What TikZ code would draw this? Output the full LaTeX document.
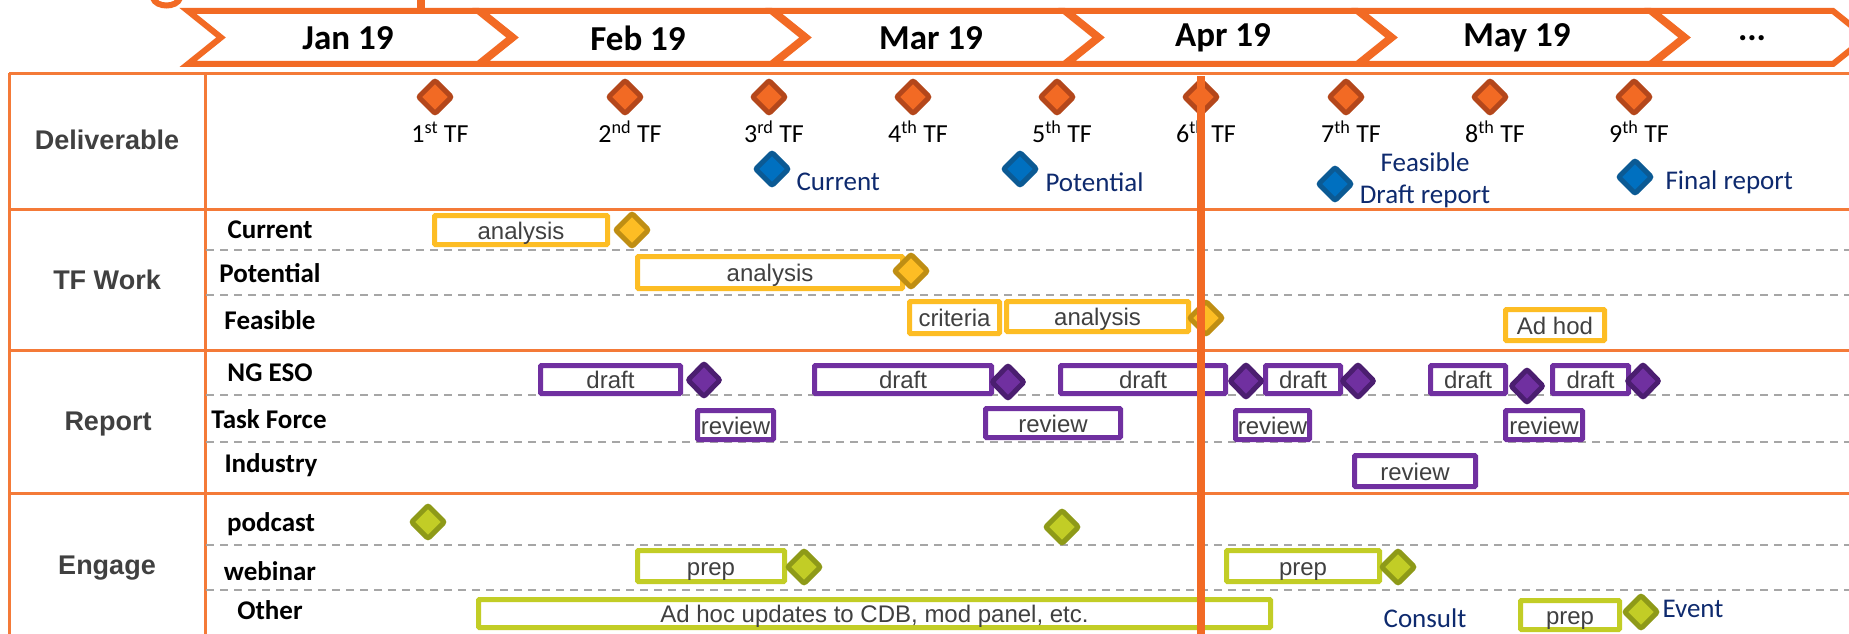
\documentclass[tikz,border=0pt]{standalone}
\usepackage{fontspec}
\setmainfont{Carlito}
\newfontfamily\arialf{Liberation Sans}
\usetikzlibrary{shapes.geometric}

\definecolor{ora}{HTML}{F26A24}
\definecolor{oradark}{HTML}{B4471B}
\definecolor{tline}{HTML}{F47A38}
\definecolor{bluefill}{HTML}{0070C0}
\definecolor{bluedark}{HTML}{0B5A94}
\definecolor{navy}{HTML}{0E2A6E}
\definecolor{yel}{HTML}{FDBD24}
\definecolor{yeldark}{HTML}{BF8E13}
\definecolor{pur}{HTML}{7030A0}
\definecolor{purdark}{HTML}{4B1E70}
\definecolor{lime}{HTML}{C2CD26}
\definecolor{limedark}{HTML}{8E9A18}
\definecolor{dashgray}{HTML}{A6A6A6}
\definecolor{txtgray}{HTML}{404040}

\begin{document}
\begin{tikzpicture}[x=1pt,y=-1pt,
  chev/.style={draw=ora, line width=6, fill=white, line join=miter},
  chevtxt/.style={font=\bfseries\fontsize{35}{40}\selectfont},
  grid/.style={draw=tline, line width=3},
  sep/.style={draw=dashgray, line width=2.2, dash pattern=on 8pt off 6pt},
  catlab/.style={font=\arialf\bfseries\fontsize{27}{30}\selectfont, text=txtgray},
  rowlab/.style={font=\bfseries\fontsize{27}{30}\selectfont},
  tflab/.style={font=\fontsize{26}{28}\selectfont},
  navylab/.style={font=\fontsize{27}{30}\selectfont, text=navy},
  dmd/.style={shape=diamond, draw, line width=5, inner sep=0, minimum width=35, minimum height=35, rounded corners=2},
  odmd/.style={dmd, fill=ora, draw=oradark},
  bdmd/.style={dmd, fill=bluefill, draw=bluedark},
  ydmd/.style={dmd, fill=yel, draw=yeldark},
  pdmd/.style={dmd, fill=pur, draw=purdark, minimum width=34, minimum height=35},
  ldmd/.style={dmd, fill=lime, draw=limedark},
  bar/.style={draw, line width=5, fill=white, inner sep=0, rounded corners=1,
    text height=22, text depth=4,
    font=\arialf\fontsize{24}{26}\selectfont, text=txtgray},
  ybar/.style={bar, draw=yel},
  pbar/.style={bar, draw=pur},
  lbar/.style={bar, draw=lime},
  today/.style={draw=ora, line width=8}
]
\useasboundingbox (0,0) rectangle (1849,634);
\clip (0,0) rectangle (1849,634);
\fill[white] (0,0) rectangle (1849,634);

% fragments of the heading above the month band
\draw[ora, line width=6] (153,-2) .. controls (156,8) and (177,8) .. (180,-2);
\fill[ora] (417,0) rectangle (425,8);

% month band
\foreach \i in {0,...,4} {
  \draw[chev] ({188+293*\i},11) -- ++(290,0) -- ++(33,26.5) -- ++(-33,26.5)
     -- ++(-290,0) -- ++(33,-26.5) -- cycle;
}
\draw[chev] (1653,11) -- ++(180,0) -- ++(33,26.5) -- ++(-33,26.5)
   -- ++(-180,0) -- ++(33,-26.5) -- cycle;
\node[chevtxt] (mjan) at (348,38) {Jan 19};
\node[chevtxt] (mfeb) at (638,38) {Feb 19};
\node[chevtxt] (mmar) at (931,38) {Mar 19};
\node[chevtxt] (mapr) at (1223,38) {Apr 19};
\node[chevtxt] (mmay) at (1517,38) {May 19};
\node[chevtxt] (mmore) at (1752,38) {...};

% table grid
\draw[grid] (9,73) -- (1849,73);
\draw[grid] (9,209) -- (1849,209);
\draw[grid] (9,350) -- (1849,350);
\draw[grid] (9,493) -- (1849,493);
\draw[grid] (9,73) -- (9,634);
\draw[grid] (205,73) -- (205,634);

% sub-row separators
\foreach \y in {250,295,395,442,545,590} {
  \draw[sep] (206,\y) -- (1849,\y);
}

% category labels
\node[catlab] (cdel) at (107,140) {Deliverable};
\node[catlab] (ctf) at (107,280) {TF Work};
\node[catlab] (crep) at (108,424) {Report};
\node[catlab] (ceng) at (107,568) {Engage};

% sub-row labels
\node[rowlab] (rcur) at (270,230) {Current};
\node[rowlab] (rpot) at (270,273) {Potential};
\node[rowlab] (rfea) at (270,320) {Feasible};
\node[rowlab] (rng) at (270,373) {NG ESO};
\node[rowlab] (rtask) at (269,419) {Task Force};
\node[rowlab] (rind) at (271,465) {Industry};
\node[rowlab] (rpod) at (271,524) {podcast};
\node[rowlab] (rweb) at (270,571) {webinar};
\node[rowlab] (roth) at (270,610) {Other};

% task force meetings
\node[odmd] (tf1) at (435,97) {};
\node[odmd] (tf2) at (625,97) {};
\node[odmd] (tf3) at (769,97) {};
\node[odmd] (tf4) at (913,97) {};
\node[odmd] (tf5) at (1057,97) {};
\node[odmd] (tf6) at (1201,97) {};
\node[odmd] (tf7) at (1346,97) {};
\node[odmd] (tf8) at (1490,97) {};
\node[odmd] (tf9) at (1634,97) {};
\node[tflab] (ltf1) at (440,132) {1\textsuperscript{st} TF};
\node[tflab] (ltf2) at (630,132) {2\textsuperscript{nd} TF};
\node[tflab] (ltf3) at (774,132) {3\textsuperscript{rd} TF};
\node[tflab] (ltf4) at (918,132) {4\textsuperscript{th} TF};
\node[tflab] (ltf5) at (1062,132) {5\textsuperscript{th} TF};
\node[tflab] (ltf6) at (1206,132) {6\textsuperscript{th} TF};
\node[tflab] (ltf7) at (1351,132) {7\textsuperscript{th} TF};
\node[tflab] (ltf8) at (1495,132) {8\textsuperscript{th} TF};
\node[tflab] (ltf9) at (1639,132) {9\textsuperscript{th} TF};

% report deliverables
\node[bdmd] (dcur) at (772,169) {};
\node[bdmd] (dpot) at (1020,169) {};
\node[bdmd] (dfea) at (1335,184) {};
\node[bdmd] (dfin) at (1635,177) {};
\node[navylab, anchor=west] (ldcur) at (793,182) {Current};
\node[navylab, anchor=west] (ldpot) at (1042,182) {Potential};
\node[navylab] (ldfea) at (1425,162) {Feasible};
\node[navylab] (ldraft) at (1425,196) {Draft report};
\node[navylab, anchor=west] (ldfin) at (1662,182) {Final report};

% TF work
\node[ybar, minimum width=173, minimum height=29] (wcur) at (521,230) {analysis};
\node[ydmd] (wcurm) at (632,230) {};
\node[ybar, minimum width=265, minimum height=32] (wpot) at (770,272.5) {analysis};
\node[ydmd] (wpotm) at (911,271) {};
\node[ybar, minimum width=90, minimum height=32] (wcrit) at (954.5,317.5) {criteria};
\node[ybar, minimum width=182, minimum height=30] (wfea) at (1097.5,316.5) {analysis};
\node[ydmd] (wfeam) at (1206,318) {};
\node[ybar, minimum width=99, minimum height=31] (wadh) at (1555,325) {Ad hod};

% report drafting
\node[pbar, minimum width=140, minimum height=28] (ng1) at (610.5,379.5) {draft};
\node[pbar, minimum width=177, minimum height=28] (ng2) at (903,379.5) {draft};
\node[pbar, minimum width=165, minimum height=28] (ng3) at (1143,379.5) {draft};
\node[pbar, minimum width=75, minimum height=28] (ng4) at (1303,379.5) {draft};
\node[pbar, minimum width=75, minimum height=28] (ng5) at (1468,379.5) {draft};
\node[pbar, minimum width=76, minimum height=28] (ng6) at (1590.5,379.5) {draft};
\node[pbar, minimum width=76, minimum height=29] (tk1) at (735.5,425) {review};
\node[pbar, minimum width=135, minimum height=29] (tk2) at (1053,423) {review};
\node[pbar, minimum width=74, minimum height=29] (tk3) at (1272.5,425) {review};
\node[pbar, minimum width=77, minimum height=29] (tk4) at (1544,425) {review};
\node[pbar, minimum width=121, minimum height=31] (ind1) at (1415,471) {review};
\node[pdmd] (ngm1) at (704,380) {};
\node[pdmd] (ngm2) at (1008,382) {};
\node[pdmd] (ngm3) at (1246,381) {};
\node[pdmd] (ngm4) at (1358,381) {};
\node[pdmd] (ngm5) at (1527,386) {};
\node[pdmd] (ngm6) at (1643,381) {};

% engagement
\node[ldmd] (pod1) at (428,522) {};
\node[ldmd] (pod2) at (1062,527) {};
\node[lbar, minimum width=147, minimum height=31] (web1) at (711,566) {prep};
\node[ldmd] (web1m) at (804,567) {};
\node[lbar, minimum width=153, minimum height=31] (web2) at (1303,566) {prep};
\node[ldmd] (web2m) at (1398,567) {};
\node[lbar, minimum width=792, minimum height=28] (oth1) at (874.5,613.5) {Ad hoc updates to CDB, mod panel, etc.};
\node[navylab] (cons) at (1425,618) {Consult};
\node[lbar, minimum width=99, minimum height=29] (oth2) at (1570,615) {prep};
\node[ldmd] (evm) at (1641,612) {};
\node[navylab, anchor=west] (evt) at (1659,609) {Event};

% current date marker
\draw[today] (1201,76) -- (1201,634);
\end{tikzpicture}
\end{document}
